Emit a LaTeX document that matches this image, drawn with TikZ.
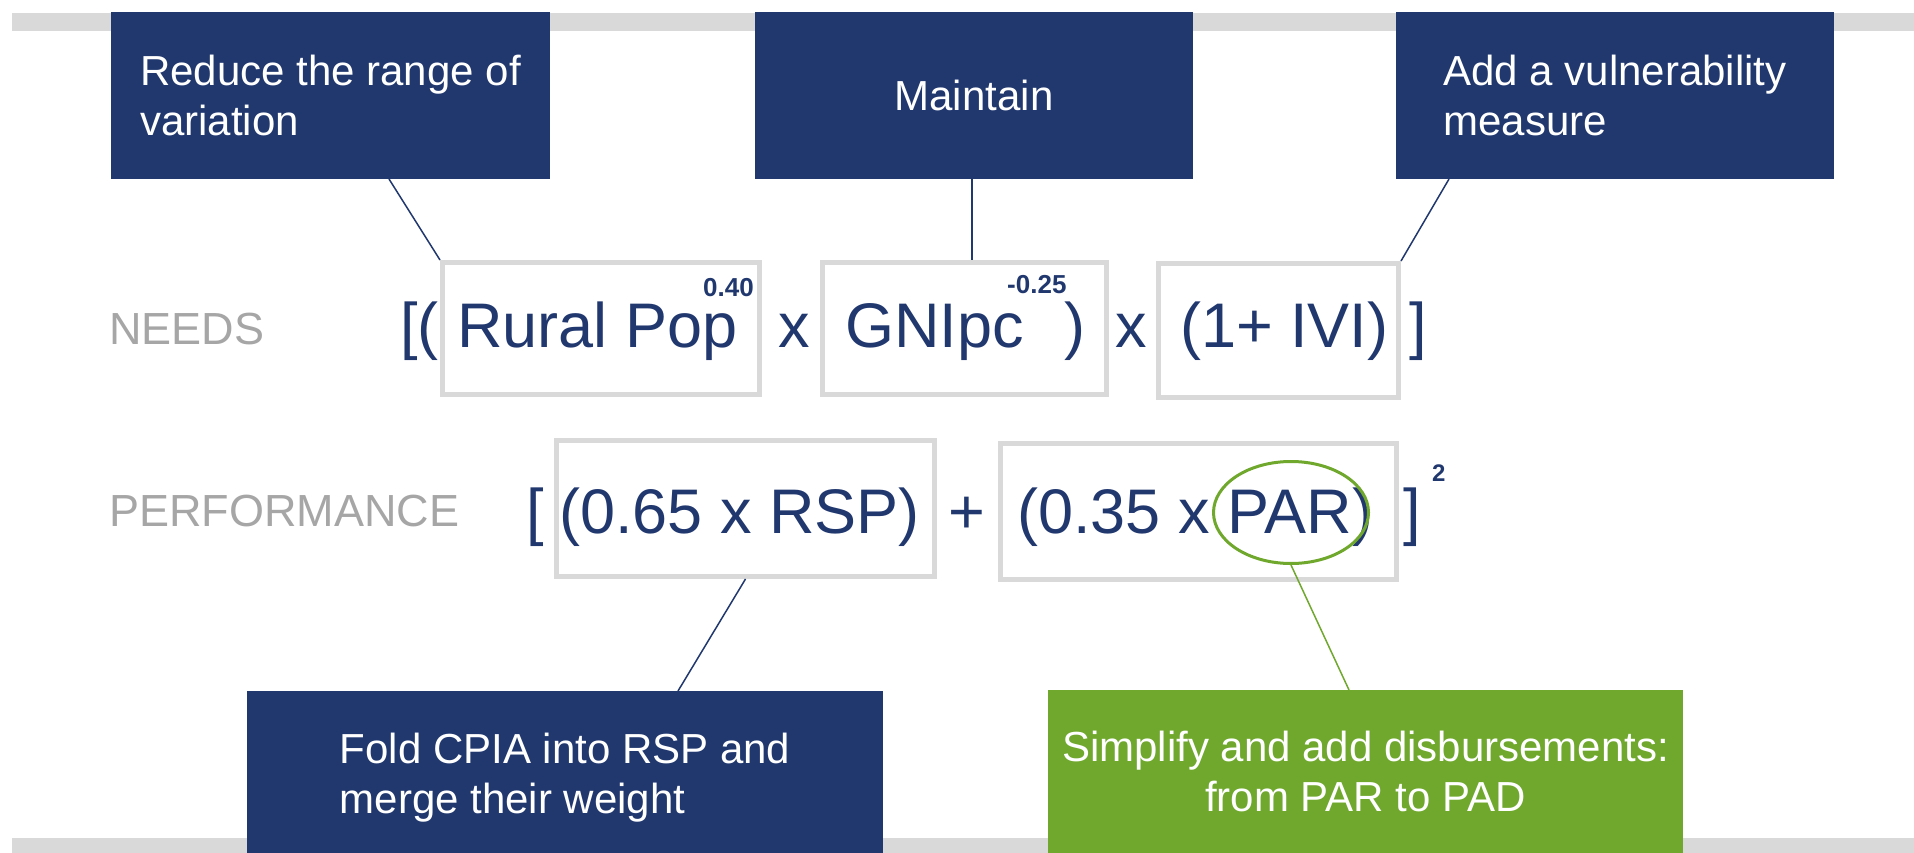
\documentclass[tikz,border=0pt]{standalone}
\usepackage{fontspec}
\setmainfont{Liberation Sans}
\usetikzlibrary{shapes.geometric}
\definecolor{navy}{RGB}{33,56,111}
\definecolor{leaf}{RGB}{112,168,46}
\definecolor{barGray}{RGB}{217,217,217}
\definecolor{labelGray}{RGB}{166,166,166}
\begin{document}
\begin{tikzpicture}[x=1pt,y=-1pt,
  bar/.style={fill=barGray},
  callout/.style={fill=navy, text=white, inner sep=0pt, outer sep=0pt, anchor=north west,
    font=\fontsize{42}{50}\selectfont, align=left},
  greencallout/.style={callout, fill=leaf, align=center},
  termbox/.style={draw=barGray, line width=5pt, inner sep=0pt, anchor=north west},
  formula/.style={text=navy, font=\fontsize{63}{70}\selectfont, inner sep=0pt, anchor=base west},
  expo/.style={text=navy, font=\fontsize{26}{30}\selectfont\bfseries, inner sep=0pt, anchor=base west},
  rowlabel/.style={text=labelGray, font=\fontsize{45}{50}\selectfont, inner sep=0pt, anchor=base west},
  link/.style={draw=navy, line width=1.5pt},
  greenlink/.style={draw=leaf, line width=1.5pt},
  ring/.style={ellipse, draw=leaf, line width=3pt, inner sep=0pt},
]
\useasboundingbox (0,0) rectangle (1914,853);
\clip (0,0) rectangle (1914,853);

% grey bars
\fill[bar] (12,12.6) rectangle (1914,31.5);
\fill[bar] (12,838) rectangle (1914,853);

% callout boxes
\node[callout, minimum width=439pt, minimum height=167pt] (top1) at (111,12) {Reduce the range of\\variation};
\node[callout, minimum width=438pt, minimum height=167pt] (top2) at (755,12) {Maintain};
\node[callout, minimum width=438pt, minimum height=167pt] (top3) at (1396,12) {Add a vulnerability\\measure};
\node[callout, minimum width=636pt, minimum height=174pt] (bot1) at (247,691) {Fold CPIA into RSP and\\merge their weight};
\node[greencallout, minimum width=635pt, minimum height=163pt] (bot2) at (1048,690) {Simplify and add disbursements:\\from PAR to PAD};

% term boxes
\node[termbox, minimum width=317pt, minimum height=132pt] (A) at (440,260) {};
\node[termbox, minimum width=284pt, minimum height=132pt] (B) at (820,260) {};
\node[termbox, minimum width=240pt, minimum height=134pt] (C) at (1156,261) {};
\node[termbox, minimum width=378pt, minimum height=136pt] (D) at (554,438) {};
\node[termbox, minimum width=396pt, minimum height=136pt] (E) at (998,441) {};

% row labels
\node[rowlabel] (needs) at (109,344) {NEEDS};
\node[rowlabel] (perf) at (109,526) {PERFORMANCE};

% needs formula
\node[formula] (f1) at (400,347) {[(};
\node[formula] (f2) at (457,347) {Rural Pop};
\node[expo] (e1) at (703,296) {0.40};
\node[formula] (f3) at (778,347) {x};
\node[formula] (f4) at (845,347) {GNIpc};
\node[expo] (e2) at (1007,293) {-0.25};
\node[formula] (f5) at (1064,347) {)};
\node[formula] (f6) at (1115,347) {x};
\node[formula] (f7) at (1180,347) {(1+ IVI)};
\node[formula] (f8) at (1409,347) {]};

% performance formula
\node[formula] (g1) at (526,533) {[};
\node[formula] (g2) at (559,533) {(0.65 x RSP)};
\node[formula] (g3) at (948,533) {+};
\node[formula] (g4) at (1017,533) {(0.35 x PAR)};
\node[formula] (g5) at (1403,533) {]};
\node[expo, font=\fontsize{24}{28}\selectfont\bfseries] (e3) at (1432,481) {2};

% ring around PAR
\node[ring, minimum width=155pt, minimum height=102pt] (parring) at (1291,512.5) {};

% connectors
\draw[link] ([xshift=278pt]top1.south west) -- (A.north west);
\draw[link] ([xshift=217pt]top2.south west) -- ([xshift=152pt]B.north west);
\draw[link] ([xshift=53pt]top3.south west) -- (C.north east);
\draw[link] (D.south) -- ([xshift=431pt]bot1.north west);
\draw[greenlink] (parring.south) -- ([xshift=301pt]bot2.north west);
\end{tikzpicture}
\end{document}
